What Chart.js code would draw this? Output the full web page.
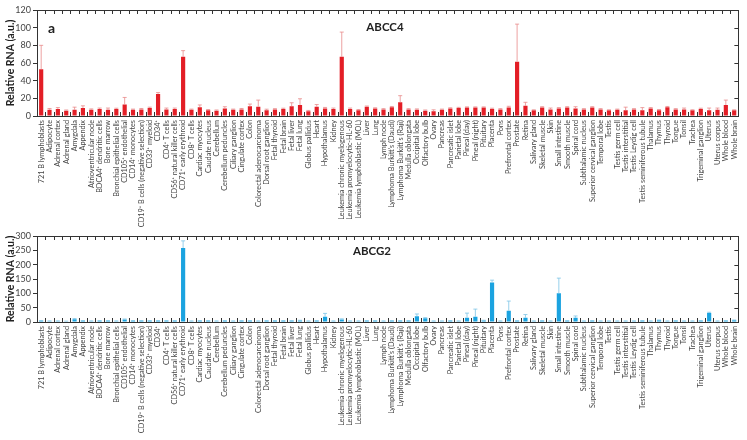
<!DOCTYPE html>
<html>
<head>
<meta charset="utf-8">
<script src="https://cdn.jsdelivr.net/npm/chart.js@4.4.1/dist/chart.umd.min.js"></script>
<style>
  body { margin: 0; background: #fff; }
  .panel { position: absolute; left: 0; width: 747px; }
</style>
</head>
<body>
<div class="panel" style="top:0"><canvas id="abcc4" width="747" height="228"></canvas></div>
<div class="panel" style="top:228px"><canvas id="abcg2" width="747" height="212"></canvas></div>
<script>
const categories = [
  '721 B lymphoblasts', 'Adipocyte', 'Adrenal cortex', 'Adrenal gland', 'Amygdala', 'Appendix',
  'Atrioventricular node', 'BDCA4⁺ dendritic cells', 'Bone marrow', 'Bronchial epithelial cells',
  'CD105⁺ endothelial', 'CD14⁺ monocytes', 'CD19⁺ B cells (negative selection)', 'CD33⁺ myeloid',
  'CD34⁺', 'CD4⁺ T cells', 'CD56⁺ natural killer cells', 'CD71⁺ early erythroid', 'CD8⁺ T cells',
  'Cardiac myocytes', 'Caudate nucleus', 'Cerebellum', 'Cerebellum peduncles', 'Ciliary ganglion',
  'Cingulate cortex', 'Colon', 'Colorectal adenocarcinoma', 'Dorsal root ganglion', 'Fetal thyroid',
  'Fetal brain', 'Fetal liver', 'Fetal lung', 'Globus pallidus', 'Heart', 'Hypothalamus', 'Kidney',
  'Leukemia chronic myelogenous', 'Leukemia promyelocytic-HL-60', 'Leukemia lymphoblastic (MOL)',
  'Liver', 'Lung', 'Lymph node', "Lymphoma Burkitt's (Daudi)", "Lymphoma Burkitt's (Raji)",
  'Medulla oblongata', 'Occipital lobe', 'Olfactory bulb', 'Ovary', 'Pancreas', 'Pancreatic islet',
  'Parietal lobe', 'Pineal (day)', 'Pineal (night)', 'Pituitary', 'Placenta', 'Pons',
  'Prefrontal cortex', 'Prostate', 'Retina', 'Salivary gland', 'Skeletal muscle', 'Skin',
  'Small intestine', 'Smooth muscle', 'Spinal cord', 'Subthalamic nucleus',
  'Superior cervical ganglion', 'Temporal lobe', 'Testis', 'Testis germ cell', 'Testis interstitial',
  'Testis Leydig cell', 'Testis seminiferous tubule', 'Thalamus', 'Thymus', 'Thyroid', 'Tongue',
  'Tonsil', 'Trachea', 'Trigeminal ganglion', 'Uterus', 'Uterus corpus', 'Whole blood', 'Whole brain'
];

// ABCC4 - relative RNA and upper error
const abcc4Values = [
  53, 7, 8, 6, 7, 9, 7, 8, 7, 8,
  13, 7, 7.5, 9, 25, 7.5, 8, 67, 7, 10,
  6.5, 6, 8.5, 7, 7.5, 11, 10.5, 6.5, 7.5, 8,
  11, 12.5, 5.5, 10.5, 8.5, 8, 67, 8, 6.5, 10.5,
  8.5, 7.5, 10, 15.5, 7.5, 7, 6, 5.5, 7, 8.5,
  9, 9.5, 9.5, 9.5, 8, 7.5, 9.5, 61.5, 11.5, 6.5,
  9.5, 7.5, 8.5, 9.5, 8.5, 7.5, 9.5, 7.5, 6.5, 7,
  6.5, 7.5, 6.5, 8.5, 6.5, 10, 7.5, 7.5, 6.5, 8,
  6.5, 7, 12.5, 6.5
];
const abcc4Errors = [
  27, 1.5, 1.5, 0.8, 3, 2.5, 1, 1, 2, 0.8,
  8, 0.8, 1, 1, 1.5, 1.5, 1, 7, 0.8, 2.5,
  0.8, 0.8, 2, 0.8, 1, 2.5, 7.5, 1.2, 0.8, 0.8,
  4, 7, 0.8, 2.5, 1.2, 1, 28, 1, 0.8, 0.8,
  0.8, 0.8, 0.8, 7.5, 0.8, 1, 0.8, 1.5, 0.8, 0.8,
  0.8, 0.8, 0.8, 0.8, 0.8, 0.8, 1.5, 42.5, 4, 0.5,
  1, 1.5, 1, 1, 2, 0.8, 1, 0.8, 0.5, 0.8,
  3.5, 0.8, 3, 1, 0.8, 0.8, 0.8, 1.5, 0.5, 0.8,
  2.5, 2, 5.5, 0.5
];

// ABCG2 - relative RNA and upper error
const abcg2Values = [
  4, 3, 3, 2, 10, 4, 3, 4, 4, 3,
  9, 4, 4, 4, 4, 4, 4, 258, 3, 4,
  4, 3, 4, 3, 4, 4, 3, 4, 4, 4,
  4, 5, 3, 4, 18, 3, 9, 3, 3, 4,
  4, 3, 4, 4, 4, 20, 13, 3, 3, 4,
  3, 15, 18, 5, 138, 3, 39, 4, 15, 3,
  4, 3, 100, 4, 15, 3, 4, 3, 3, 3,
  3, 3, 4, 3, 6, 3, 4, 3, 3, 4,
  31, 3, 4, 6
];
const abcg2Errors = [
  1, 1, 1, 1, 2, 1, 1, 1, 1, 1,
  1.5, 1, 1, 1, 1, 1, 1, 25, 1, 1,
  1, 1, 1, 1, 1, 1, 1, 1, 1, 1,
  1, 1, 1, 1, 12, 1, 2, 1, 1, 1,
  1, 1, 1, 1, 1, 8, 2, 1, 1, 1,
  1, 16, 27, 1, 8, 1, 34, 1, 11, 1,
  1, 1, 53, 1, 6, 1, 1, 1, 1, 1,
  1, 1, 1, 1, 1, 1, 1, 1, 1, 1,
  3, 1, 1, 1
];

const abcc4Ticks = [0, 20, 40, 60, 80, 100, 120];
const abcg2Ticks = [0, 50, 100, 150, 200, 250, 300];

const FONT = 'Lato, "Open Sans", sans-serif';
const INK = '#333';

// error bars, frame, inward ticks and the panel labels
const panelPlugin = {
  id: 'panel',
  afterDatasetsDraw(chart, args, opts) {
    const ctx = chart.ctx;
    const meta = chart.getDatasetMeta(0);
    const y = chart.scales.y;
    const ds = chart.data.datasets[0];
    ctx.save();
    ctx.strokeStyle = opts.errColor;
    ctx.lineWidth = 0.8;
    meta.data.forEach((bar, i) => {
      const top = y.getPixelForValue(ds.data[i] + opts.errors[i]);
      ctx.beginPath();
      ctx.moveTo(bar.x, bar.y);
      ctx.lineTo(bar.x, top);
      ctx.moveTo(bar.x - 2, top);
      ctx.lineTo(bar.x + 2, top);
      ctx.stroke();
    });
    ctx.restore();
  },
  afterDraw(chart, args, opts) {
    const ctx = chart.ctx;
    const a = chart.chartArea;
    const n = chart.data.labels.length;
    const step = (a.right - a.left) / n;
    ctx.save();
    ctx.strokeStyle = INK;
    ctx.lineWidth = 1;
    ctx.strokeRect(Math.round(a.left) + 0.5, Math.round(a.top) + 0.5,
      Math.round(a.right - a.left), Math.round(a.bottom - a.top));
    ctx.beginPath();
    for (let k = 1; k < n; k++) {
      const x = Math.round(a.left + k * step) + 0.5;
      ctx.moveTo(x, a.top); ctx.lineTo(x, a.top + 4);
      ctx.moveTo(x, a.bottom); ctx.lineTo(x, a.bottom - 4);
    }
    chart.scales.y.ticks.forEach(t => {
      const yy = Math.round(chart.scales.y.getPixelForValue(t.value)) + 0.5;
      ctx.moveTo(a.right, yy); ctx.lineTo(a.right - 4, yy);
    });
    ctx.stroke();

    ctx.fillStyle = '#222';
    ctx.textBaseline = 'middle';
    ctx.textAlign = 'center';
    ctx.font = 'bold 11.5px ' + FONT;
    ctx.fillText(opts.gene, opts.geneX, opts.geneY);
    if (opts.letter) {
      ctx.textAlign = 'left';
      ctx.font = 'bold 14px ' + FONT;
      ctx.fillText(opts.letter, 48, 28);
    }
    ctx.restore();
  }
};

function makeChart(id, values, errors, tickVals, color, errColor, gene, geneX, geneY, letter, top, axisH) {
  return new Chart(document.getElementById(id), {
    type: 'bar',
    data: {
      labels: categories,
      datasets: [{
        data: values,
        backgroundColor: color,
        borderWidth: 0,
        barPercentage: 0.5,
        categoryPercentage: 1
      }]
    },
    options: {
      responsive: false,
      animation: false,
      layout: { padding: { top: top, right: 8, left: 0, bottom: 0 } },
      plugins: {
        legend: { display: false },
        tooltip: { enabled: false },
        panel: { errors: errors, errColor: errColor, gene: gene, geneX: geneX, geneY: geneY, letter: letter }
      },
      scales: {
        x: {
          grid: { display: false, drawTicks: false },
          border: { display: false },
          afterFit: s => { s.height = axisH; },
          ticks: {
            autoSkip: false, minRotation: 90, maxRotation: 90, padding: 4,
            color: '#444', font: { family: FONT, size: 7.3 }
          }
        },
        y: {
          min: tickVals[0],
          max: tickVals[tickVals.length - 1],
          afterBuildTicks: s => { s.ticks = tickVals.map(v => ({ value: v })); },
          afterFit: s => { s.width = 37; },
          grid: { drawOnChartArea: false, tickLength: 4, color: INK },
          border: { color: INK },
          title: {
            display: true, text: 'Relative RNA (a.u.)', color: '#222',
            font: { family: FONT, size: 10.5, weight: 'bold' }, padding: { top: 4, bottom: 0 }
          },
          ticks: { padding: 2, color: '#444', font: { family: FONT, size: 9 } }
        }
      }
    },
    plugins: [panelPlugin]
  });
}

makeChart('abcc4', abcc4Values, abcc4Errors, abcc4Ticks, '#e31e26', '#e88a8a', 'ABCC4', 385, 27, 'a', 10, 112);
makeChart('abcg2', abcg2Values, abcg2Errors, abcg2Ticks, '#1ba3e0', '#7cc4e6', 'ABCG2', 372, 23, null, 8, 118);
</script>
</body>
</html>
